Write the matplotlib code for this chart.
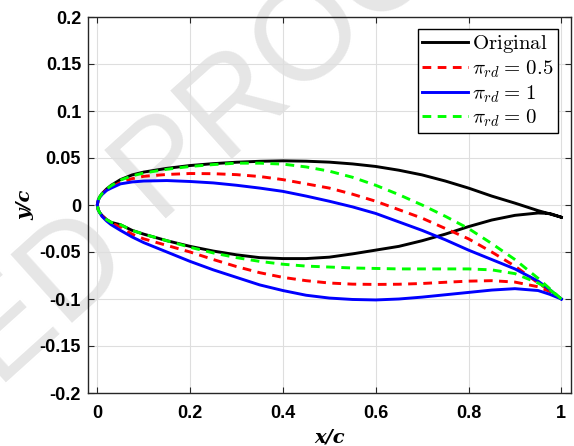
import matplotlib
matplotlib.use("Agg")
import matplotlib.pyplot as plt

plt.rcParams['mathtext.fontset'] = 'cm'

# chordwise stations (x/c)
xs = [0, 0.002, 0.005, 0.01, 0.02, 0.03, 0.05, 0.075, 0.1, 0.15, 0.2, 0.25, 0.3, 0.35,
      0.4, 0.45, 0.5, 0.55, 0.6, 0.65, 0.7, 0.75, 0.8, 0.85, 0.9, 0.95, 0.975, 1.0]

# original airfoil
orig_up = [0, 0.005, 0.0085, 0.012, 0.017, 0.021, 0.027, 0.032, 0.035, 0.039, 0.042, 0.044, 0.0455, 0.0465,
           0.047, 0.0466, 0.0456, 0.0437, 0.041, 0.037, 0.032, 0.0255, 0.018, 0.0095, 0.002, -0.006, -0.0095, -0.013]
orig_lo = [0, -0.005, -0.008, -0.011, -0.0155, -0.0185, -0.021, -0.027, -0.031, -0.038, -0.044, -0.049, -0.053, -0.056,
           -0.057, -0.057, -0.0555, -0.052, -0.048, -0.044, -0.038, -0.031, -0.023, -0.016, -0.011, -0.0085, -0.009, -0.013]

# pi_rd = 0.5
p05_up = [0, 0.005, 0.008, 0.0115, 0.016, 0.019, 0.024, 0.028, 0.0305, 0.0325, 0.0335, 0.0333, 0.0323, 0.0303,
          0.027, 0.0225, 0.018, 0.0115, 0.004, -0.005, -0.014, -0.025, -0.036, -0.05, -0.065, -0.083, -0.091, -0.1]
p05_lo = [0, -0.005, -0.008, -0.0115, -0.016, -0.019, -0.0235, -0.031, -0.036, -0.043, -0.05, -0.058, -0.0655, -0.072,
          -0.077, -0.0805, -0.083, -0.0842, -0.0845, -0.0843, -0.0835, -0.0822, -0.081, -0.0805, -0.082, -0.087, -0.092, -0.1]

# pi_rd = 1
p1_up = [0, 0.005, 0.008, 0.011, 0.0155, 0.018, 0.0225, 0.0245, 0.0255, 0.026, 0.025, 0.0235, 0.021, 0.018,
         0.0145, 0.0095, 0.004, -0.002, -0.009, -0.018, -0.027, -0.037, -0.048, -0.058, -0.068, -0.081, -0.09, -0.1]
p1_lo = [0, -0.005, -0.008, -0.012, -0.017, -0.021, -0.027, -0.034, -0.04, -0.05, -0.06, -0.069, -0.077, -0.085,
         -0.091, -0.096, -0.099, -0.1005, -0.101, -0.1, -0.098, -0.0955, -0.093, -0.0905, -0.089, -0.091, -0.095, -0.1]

# pi_rd = 0
p0_up = [0, 0.005, 0.0085, 0.012, 0.017, 0.0205, 0.0265, 0.031, 0.034, 0.038, 0.041, 0.043, 0.0445, 0.0445,
         0.0435, 0.0405, 0.036, 0.0295, 0.021, 0.011, 0.0, -0.012, -0.025, -0.041, -0.058, -0.078, -0.089, -0.1]
p0_lo = [0, -0.005, -0.008, -0.011, -0.0155, -0.0185, -0.021, -0.027, -0.031, -0.038, -0.045, -0.051, -0.056, -0.06,
         -0.063, -0.065, -0.066, -0.067, -0.0675, -0.068, -0.068, -0.068, -0.068, -0.069, -0.073, -0.083, -0.09, -0.1]

labels = [r'$\mathrm{Original}$', r'$\pi_{rd} = \,0.5$', r'$\pi_{rd} = \,1$', r'$\pi_{rd} = \,0$']


def contour(up, lo):
    # trailing edge -> upper -> leading edge -> lower -> trailing edge
    return xs[::-1] + xs[1:], up[::-1] + lo[1:]


fig = plt.figure(figsize=(5.74, 4.46), dpi=100)

# watermark (behind the axes)
W, H = 574.0, 446.0
fig.text(155 / W, 1 - 218 / H, 'PROOF', rotation=42, rotation_mode='anchor',
         ha='left', va='baseline', fontsize=96, color='0.9', family='Liberation Sans', zorder=-5)
fig.text(134 / W, 1 - 258 / H, 'UNCORRECTED', rotation=42, rotation_mode='anchor',
         ha='right', va='baseline', fontsize=96, color='0.9', family='Liberation Sans', zorder=-5)

ax = fig.add_axes([88 / W, 1 - 393 / H, 482.6 / W, 376 / H])
ax.set_facecolor('none')
ax.set_zorder(1)

x, y = contour(orig_up, orig_lo)
ax.plot(x, y, color='k', lw=2.1, label=labels[0])
x, y = contour(p05_up, p05_lo)
ax.plot(x, y, color='r', lw=2.1, dashes=(3, 2.2), label=labels[1])
x, y = contour(p1_up, p1_lo)
ax.plot(x, y, color='b', lw=2.1, label=labels[2])
x, y = contour(p0_up, p0_lo)
ax.plot(x, y, color='#00ff00', lw=2.1, dashes=(3, 2.2), label=labels[3])

ax.set_xlim(-0.02, 1.02)
ax.set_ylim(-0.2, 0.2)
ax.set_xticks([0, 0.2, 0.4, 0.6, 0.8, 1])
ax.set_xticklabels(['0', '0.2', '0.4', '0.6', '0.8', '1'])
ax.set_yticks([-0.2, -0.15, -0.1, -0.05, 0, 0.05, 0.1, 0.15, 0.2])
ax.set_yticklabels(['-0.2', '-0.15', '-0.1', '-0.05', '0', '0.05', '0.1', '0.15', '0.2'])
ax.grid(True, color='0.87', lw=0.8)
ax.set_axisbelow(True)
ax.tick_params(direction='in', length=4, width=0.8, top=True, right=True, colors='0.15',
               labelcolor='k', labelsize=13)
ax.tick_params(axis='x', pad=9)
ax.tick_params(axis='y', pad=5)
for lab in ax.get_xticklabels() + ax.get_yticklabels():
    lab.set_fontweight('bold')
    lab.set_family('Liberation Sans')
for s in ax.spines.values():
    s.set_color('0.15')
    s.set_linewidth(1)

ax.set_xlabel('x/c', family='DejaVu Serif', style='italic', weight='bold', fontsize=14, labelpad=4)
ax.set_ylabel('y/c', family='DejaVu Serif', style='italic', weight='bold', fontsize=14, labelpad=4)

leg = ax.legend(loc='upper right', bbox_to_anchor=(0.974, 0.968), borderaxespad=0,
                fontsize=15, fancybox=False, framealpha=1, edgecolor='k',
                handlelength=2.2, handletextpad=0.2, labelspacing=0.15, borderpad=0.2)
leg.get_frame().set_linewidth(1)

fig.savefig('out.png', dpi=100)
